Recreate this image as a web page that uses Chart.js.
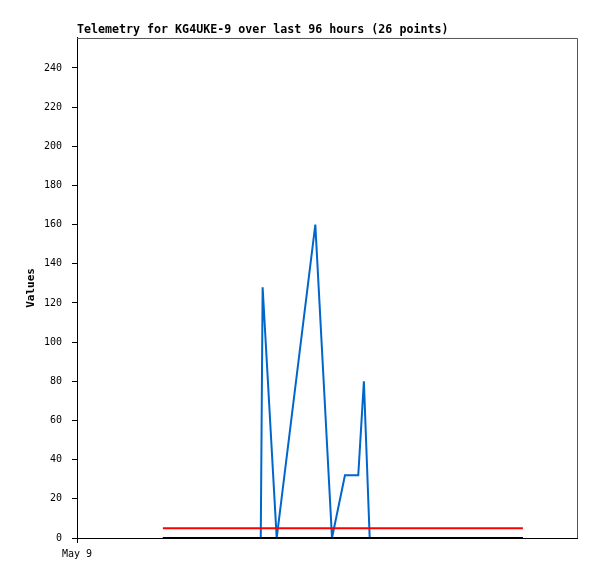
<!DOCTYPE html>
<html lang="en">
  <head>
    <meta charset="UTF-8" />
    <title>Telemetry KG4UKE-9</title>
    <script src="https://cdn.jsdelivr.net/npm/chart.js"></script>
    <style>
      html, body { margin: 0; padding: 0; background: #fff; }
      canvas { display: block; }
    </style>
  </head>
  <body>
    <canvas id="telemetryChart" width="597" height="579"></canvas>

    <script>
      // hours since May 9 00:00
      const sampleHours = [22.9, 49.0, 49.5, 53.25, 63.55, 68.0, 71.45, 75.0, 76.5, 78.05, 118.9];
      const sampleValues = [0, 0, 128, 0, 160, 0, 32, 32, 80, 0, 0];
      const limitHours = [22.9, 118.9];
      const upperLimit = [5, 5];
      const lowerLimit = [0, 0];
      const xTickHours = [0];
      const xTickLabels = ["May 9"];
      const yTicks = [0, 20, 40, 60, 80, 100, 120, 140, 160, 180, 200, 220, 240];

      const toPoints = (xs, ys) => xs.map((x, i) => ({ x: x, y: ys[i] }));

      // grey top/right frame
      const framePlugin = {
        id: "frame",
        beforeDatasetsDraw(chart) {
          const a = chart.chartArea;
          const ctx = chart.ctx;
          ctx.save();
          ctx.strokeStyle = "#555555";
          ctx.lineWidth = 1;
          ctx.beginPath();
          ctx.moveTo(a.left, a.top + 0.5);
          ctx.lineTo(a.right + 0.5, a.top + 0.5);
          ctx.lineTo(a.right + 0.5, a.bottom);
          ctx.stroke();
          ctx.restore();
        },
      };

      const mono = "'DejaVu Sans Mono', 'Liberation Mono', monospace";

      new Chart(document.getElementById("telemetryChart"), {
        type: "line",
        data: {
          datasets: [
            {
              label: "values",
              data: toPoints(sampleHours, sampleValues),
              borderColor: "#0066cc",
              borderWidth: 2,
              order: 2,
            },
            {
              label: "upper",
              data: toPoints(limitHours, upperLimit),
              borderColor: "#ff0000",
              borderWidth: 2,
              order: 1,
            },
            {
              label: "lower",
              data: toPoints(limitHours, lowerLimit),
              borderColor: "#000000",
              borderWidth: 2,
              order: 0,
            },
          ],
        },
        options: {
          responsive: false,
          animation: false,
          events: [],
          elements: { point: { radius: 0 }, line: { tension: 0 } },
          layout: { padding: { top: 21, right: 20, bottom: 0, left: 0 } },
          plugins: {
            legend: { display: false },
            tooltip: { enabled: false },
            title: {
              display: true,
              text: "Telemetry for KG4UKE-9 over last 96 hours (26 points)",
              align: "start",
              fullSize: false,
              color: "#000",
              font: { family: mono, size: 11.65, weight: "bold" },
              padding: { top: 2, bottom: 1 },
            },
          },
          scales: {
            x: {
              type: "linear",
              min: 0,
              max: 133.33,
              afterFit(scale) { scale.height = 41; },
              afterBuildTicks(scale) {
                scale.ticks = xTickHours.map((v) => ({ value: v }));
              },
              ticks: {
                color: "#000",
                font: { family: mono, size: 10 },
                padding: 5,
                maxRotation: 0,
                callback: (v) => {
                  const i = xTickHours.indexOf(v);
                  return i >= 0 ? xTickLabels[i] : "";
                },
              },
              grid: {
                drawOnChartArea: false,
                drawTicks: true,
                tickLength: 5,
                color: "#000",
              },
              border: { color: "#000", width: 1 },
            },
            y: {
              min: 0,
              max: 255.3,
              afterFit(scale) { scale.width = 77; },
              afterBuildTicks(scale) {
                scale.ticks = yTicks.map((v) => ({ value: v }));
              },
              ticks: {
                color: "#000",
                font: { family: mono, size: 10 },
                padding: 10,
              },
              grid: {
                drawOnChartArea: false,
                drawTicks: true,
                tickLength: 5,
                color: "#000",
              },
              border: { color: "#000", width: 1 },
              title: {
                display: true,
                text: "Values",
                color: "#000",
                font: { family: mono, size: 11, weight: "bold" },
                padding: { top: 25, bottom: 0 },
              },
            },
          },
        },
        plugins: [framePlugin],
      });
    </script>
  </body>
</html>
